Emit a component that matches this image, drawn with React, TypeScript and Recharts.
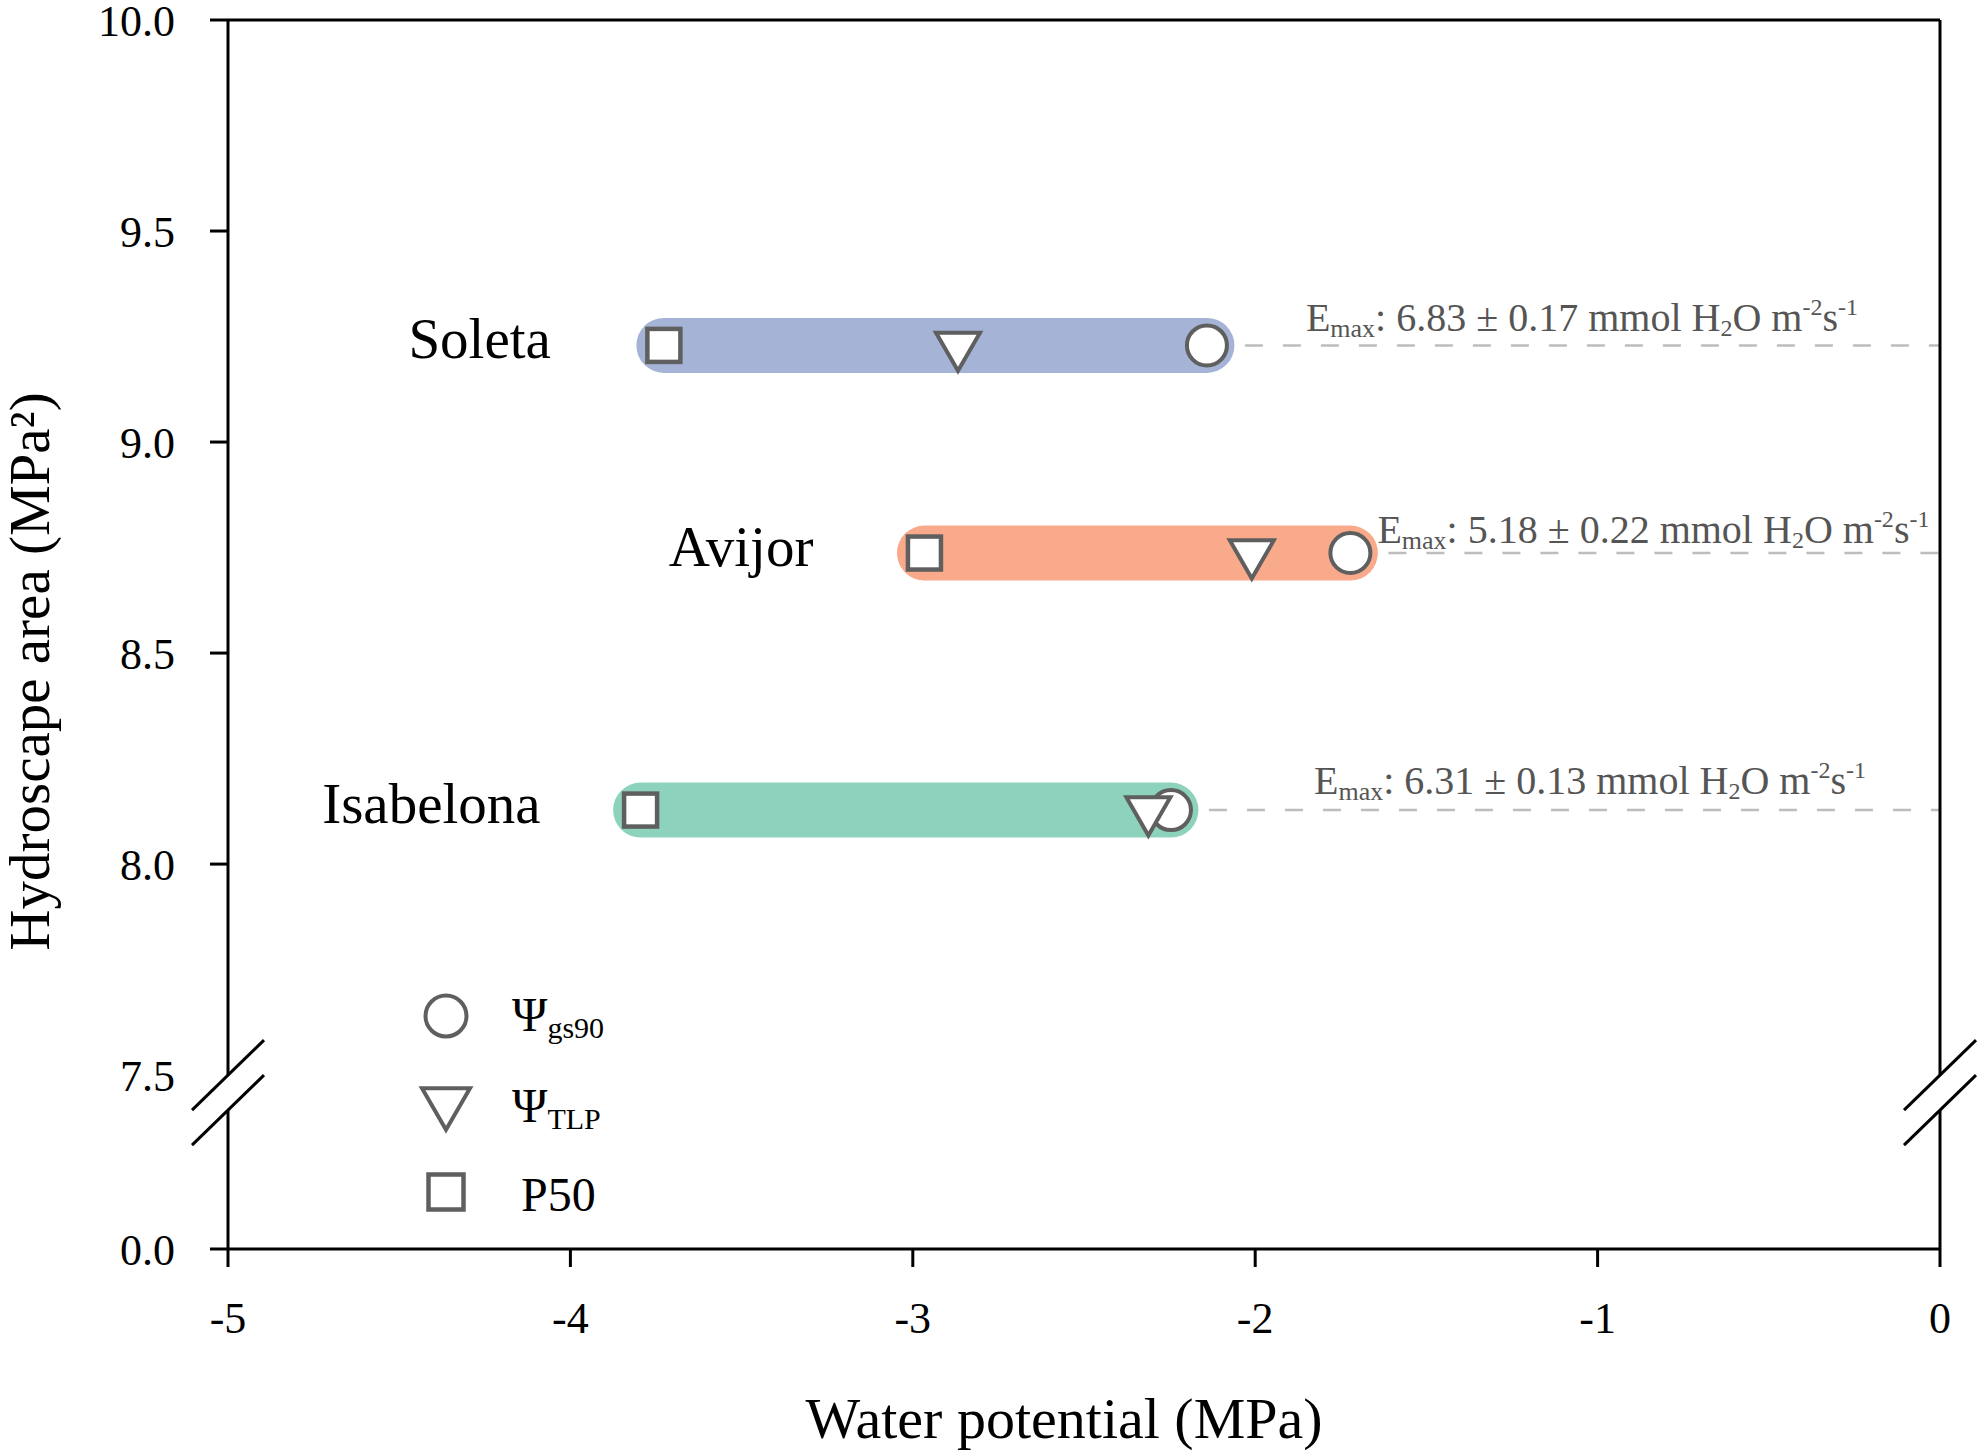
import React from 'react';
import { ComposedChart, Line, Scatter, XAxis, YAxis, ReferenceLine, Legend } from 'recharts';

// ---------- data ----------
const cultivars = ['Soleta', 'Avijor', 'Isabelona'];
const hydroscapeArea = [9.229, 8.737, 8.128];
const psiGs90 = [-2.141, -1.722, -2.246];
const psiTLP = [-2.868, -2.01, -2.312];
const p50 = [-3.727, -2.966, -3.795];
const emaxMean = [6.83, 5.18, 6.31];
const emaxSE = [0.17, 0.22, 0.13];
const xTicks = [-5, -4, -3, -2, -1, 0];
const yTicks = [7.5, 8.0, 8.5, 9.0, 9.5, 10.0];
const yBreakLabel = 0.0;

// ---------- layout / style ----------
const SERIF = '"Liberation Serif", "Times New Roman", serif';
const barColors = ['#a5b4d6', '#f9aa8b', '#8dd2bc'];
const MARK = '#5f5f5f';
const Y_FLOOR = 7.088; // position where the broken axis shows 0.0
const BREAK_VALUE = 7.5;
const nameGap = [113, 111, 100];
const emaxOffset = [
  { dx: 99, dy: -14 },
  { dx: 27, dy: -10 },
  { dx: 143, dy: -16 },
];

const rows = cultivars.map((name, i) => ({
  i,
  name,
  area: hydroscapeArea[i],
  gs90: psiGs90[i],
  tlp: psiTLP[i],
  p50: p50[i],
  emax: emaxMean[i],
  se: emaxSE[i],
}));
const gs90Pts = rows.map((r) => ({ ...r, x: r.gs90, y: r.area }));
const tlpPts = rows.map((r) => ({ ...r, x: r.tlp, y: r.area }));
const p50Pts = rows.map((r) => ({ ...r, x: r.p50, y: r.area }));

const fmtY = (v: number) => (v === Y_FLOOR ? yBreakLabel.toFixed(1) : v.toFixed(1));

const CircleMark = ({ cx, cy, r = 20 }: any) => (
  <circle cx={cx} cy={cy} r={r} fill="#fff" stroke={MARK} strokeWidth={4} />
);
const TriMark = ({ cx, cy, w = 44 }: any) => {
  const h = w * 0.866;
  return (
    <polygon
      points={`${cx - w / 2},${cy - h / 3} ${cx + w / 2},${cy - h / 3} ${cx},${cy + (2 * h) / 3}`}
      fill="#fff"
      stroke={MARK}
      strokeWidth={4}
      strokeLinejoin="miter"
    />
  );
};
const SquareMark = ({ cx, cy, s = 33 }: any) => (
  <rect x={cx - s / 2} y={cy - s / 2} width={s} height={s} fill="#fff" stroke={MARK} strokeWidth={4.5} />
);

const EmaxText = ({ x, y, mean, se }: any) => (
  <text x={x} y={y} fontFamily={SERIF} fontSize={40} fill="#555">
    E
    <tspan fontSize={26} dy={6}>max</tspan>
    <tspan dy={-6}>{`: ${mean.toFixed(2)} ± ${se.toFixed(2)} mmol H`}</tspan>
    <tspan fontSize={24} dy={5}>2</tspan>
    <tspan dy={-5}>O m</tspan>
    <tspan fontSize={24} dy={-16}>-2</tspan>
    <tspan dy={16}>s</tspan>
    <tspan fontSize={24} dy={-16}>-1</tspan>
  </text>
);

const renderGs90 = (props: any) => {
  const { cx, cy, payload } = props;
  const o = emaxOffset[payload.i];
  return (
    <g>
      <CircleMark cx={cx} cy={cy} />
      <EmaxText x={cx + o.dx} y={cy + o.dy} mean={payload.emax} se={payload.se} />
    </g>
  );
};
const renderTlp = (props: any) => <TriMark cx={props.cx} cy={props.cy} />;
const renderP50 = (props: any) => {
  const { cx, cy, payload } = props;
  return (
    <g>
      <SquareMark cx={cx} cy={cy} />
      <text
        x={cx - nameGap[payload.i]}
        y={cy + 13}
        textAnchor="end"
        fontFamily={SERIF}
        fontSize={57}
        fill="#000"
      >
        {payload.name}
      </text>
    </g>
  );
};

const BrokenAxis = (props: any) => {
  const { x1, y1, y2 } = props;
  const yTop = Math.min(y1, y2);
  const yBot = Math.max(y1, y2);
  const yb = yTop + ((10 - BREAK_VALUE) / (10 - Y_FLOOR)) * (yBot - yTop);
  const gap = 35;
  const s = { stroke: '#000', strokeWidth: 3 };
  return (
    <g>
      <line x1={x1} y1={yTop} x2={x1} y2={yb} {...s} />
      <line x1={x1} y1={yb + gap} x2={x1} y2={yBot} {...s} />
      <line x1={x1 - 36} y1={yb + 35} x2={x1 + 36} y2={yb - 35} {...s} />
      <line x1={x1 - 36} y1={yb + gap + 35} x2={x1 + 36} y2={yb + gap - 35} {...s} />
    </g>
  );
};

const YTick = (props: any) => {
  const { x, y, payload } = props;
  const v = payload.value;
  return (
    <g>
      {v !== BREAK_VALUE && <line x1={x + 35} y1={y} x2={x + 53} y2={y} stroke="#000" strokeWidth={3} />}
      <text x={x} y={y} dy="0.355em" textAnchor="end" fontFamily={SERIF} fontSize={44} fill="#000">
        {fmtY(v)}
      </text>
    </g>
  );
};

const YLabel = (props: any) => {
  const vb = props.viewBox || { x: 0, y: 20, width: 228, height: 1229 };
  const x = vb.x + 49;
  const y = vb.y + vb.height / 2 + 37;
  return (
    <text
      x={x}
      y={y}
      transform={`rotate(-90, ${x}, ${y})`}
      textAnchor="middle"
      fontFamily={SERIF}
      fontSize={57}
      fill="#000"
    >
      Hydroscape area (MPa²)
    </text>
  );
};

const legendItems = [
  { key: 'gs90', main: 'Ψ', sub: 'gs90' },
  { key: 'tlp', main: 'Ψ', sub: 'TLP' },
  { key: 'p50', main: 'P50', sub: '' },
];

const LegendBox = () => (
  <svg width={260} height={280} style={{ display: 'block' }}>
    <CircleMark cx={46} cy={56} r={20.5} />
    <TriMark cx={46} cy={142} w={48} />
    <SquareMark cx={46} cy={232} s={35} />
    {legendItems.map((it, k) => (
      <text
        key={it.key}
        x={k === 2 ? 121 : 112}
        y={[71, 162, 251][k]}
        fontFamily={SERIF}
        fontSize={48}
        fill="#000"
      >
        {it.main}
        {it.sub && (
          <tspan fontSize={30} dy={7}>
            {it.sub}
          </tspan>
        )}
      </text>
    ))}
  </svg>
);

export default function App() {
  return (
    <div style={{ position: 'absolute', left: 0, top: 0 }}>
      <ComposedChart width={1982} height={1456} margin={{ top: 20, right: 42, bottom: 0, left: 0 }}>
        <XAxis
          type="number"
          dataKey="x"
          domain={[-5, 0]}
          ticks={xTicks}
          allowDataOverflow
          height={207}
          tickSize={18}
          tickMargin={35}
          axisLine={{ stroke: '#000', strokeWidth: 3 }}
          tickLine={{ stroke: '#000', strokeWidth: 3 }}
          tick={{ fontSize: 44, fill: '#000', fontFamily: SERIF }}
          label={{
            value: 'Water potential (MPa)',
            position: 'insideBottom',
            offset: 18,
            dx: -20,
            fontSize: 58,
            fill: '#000',
            fontFamily: SERIF,
          }}
        />
        <YAxis
          type="number"
          dataKey="y"
          domain={[Y_FLOOR, 10]}
          ticks={[Y_FLOOR, ...yTicks]}
          interval={0}
          allowDataOverflow
          width={228}
          axisLine={false}
          tickLine={false}
          tickSize={18}
          tickMargin={35}
          tick={<YTick />}
          label={{ content: <YLabel /> }}
        />
        <Legend
          layout="vertical"
          align="center"
          verticalAlign="middle"
          wrapperStyle={{ left: 400, top: 960, width: 260, height: 280 }}
          content={() => <LegendBox />}
        />
        {rows.map((r) => (
          <ReferenceLine
            key={'dash' + r.name}
            segment={[
              { x: r.gs90, y: r.area },
              { x: 0, y: r.area },
            ]}
            stroke="#bdbdbd"
            strokeWidth={2.5}
            strokeDasharray="18 20"
          />
        ))}
        {rows.map((r) => (
          <Line
            key={'bar' + r.name}
            data={[
              { x: r.p50, y: r.area },
              { x: r.gs90, y: r.area },
            ]}
            dataKey="y"
            stroke={barColors[r.i]}
            strokeWidth={55}
            strokeLinecap="round"
            dot={false}
            activeDot={false}
            legendType="none"
            isAnimationActive={false}
          />
        ))}
        <Scatter data={gs90Pts} dataKey="y" shape={renderGs90} isAnimationActive={false} legendType="none" />
        <Scatter data={tlpPts} dataKey="y" shape={renderTlp} isAnimationActive={false} legendType="none" />
        <Scatter data={p50Pts} dataKey="y" shape={renderP50} isAnimationActive={false} legendType="none" />
        <ReferenceLine y={10} stroke="#000" strokeWidth={3} ifOverflow="visible" />
        <ReferenceLine x={-5} ifOverflow="visible" shape={BrokenAxis} />
        <ReferenceLine x={0} ifOverflow="visible" shape={BrokenAxis} />
      </ComposedChart>
    </div>
  );
}
